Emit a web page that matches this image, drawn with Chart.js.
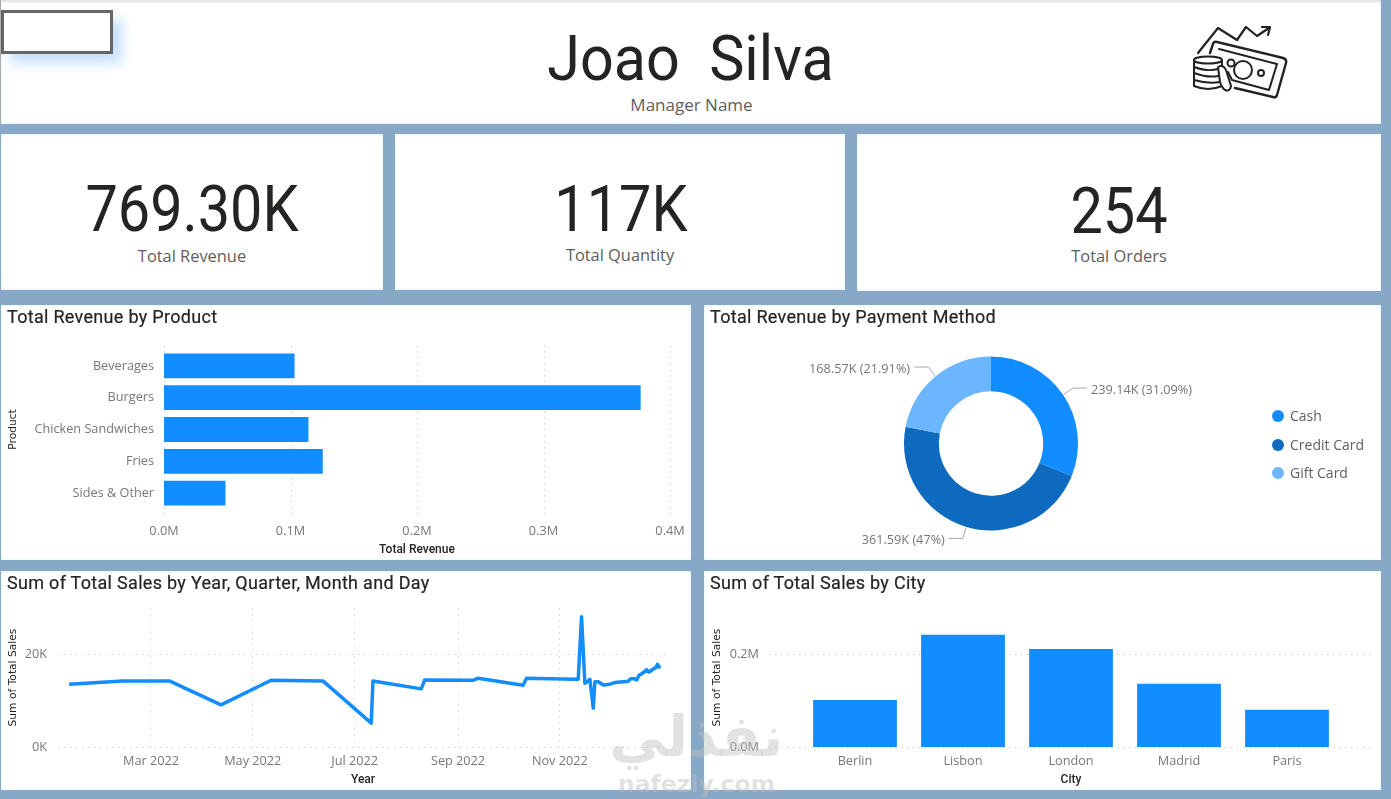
<!DOCTYPE html>
<html>
<head>
<meta charset="utf-8">
<title>Sales dashboard</title>
<script src="https://cdn.jsdelivr.net/npm/chart.js@4"></script>
<style>
  html, body { margin: 0; padding: 0; }
  body { width: 1391px; height: 799px; position: relative; overflow: hidden; background: #88a8c7; font-family: "Open Sans", sans-serif; }
  .panel { position: absolute; background: #fff; box-shadow: 0 0 3px #dcebf8 inset; }
  .panel canvas { position: absolute; left: 0; top: 0; }
  .abs { position: absolute; white-space: pre; }
  .title { position: absolute; left: 6px; top: 1px; font: 400 18px Roboto, sans-serif; letter-spacing: 0.3px; color: #252423; white-space: pre; -webkit-text-stroke: 0.2px #252423; }
  .kpi { position: absolute; text-align: center; font: 400 64px Roboto, sans-serif; color: #252423; transform: scaleX(0.9); }
  .kpilabel { position: absolute; text-align: center; font: 400 16.4px "Open Sans", sans-serif; color: #605e5c; }
  .legend { position: absolute; font: 400 14px "Open Sans", sans-serif; color: #605e5c; }
  .legend i { position: absolute; left: -18px; top: 4px; width: 12px; height: 12px; border-radius: 50%; }
</style>
</head>
<body>

<div class="abs" style="left:0;top:0;width:1381px;height:2px;background:#e6e6e6"></div>
<div class="abs" style="left:0;top:0;width:1px;height:124px;background:#aaa"></div>
<div class="panel" style="left:1px;top:2px;width:1380px;height:122px"></div>
<div class="abs" style="left:1px;top:10px;width:106px;height:38px;border:3px solid #666;background:#fff;box-shadow:9px 9px 12px #c4e0fc"></div>
<div class="abs" style="left:0;top:22px;width:1381px;text-align:center;font:400 63px Roboto,sans-serif;color:#252423;transform:scaleX(0.94)">Joao  Silva</div>
<div class="abs" style="left:0;top:93px;width:1383px;text-align:center;font:400 17px 'Open Sans',sans-serif;color:#605e5c">Manager Name</div>

<svg class="abs" style="left:1170px;top:10px" width="140" height="100" viewBox="0 0 140 100" fill="none" stroke="#222" stroke-width="2" stroke-linejoin="round" stroke-linecap="round">
  <polyline points="28,43 48,18 67,30 76,17 87,26 99,18" stroke-width="2.2"/>
  <polyline points="92,17 100,17 98,25" stroke-width="2.2"/>
  <path d="M40,43 L43,34 Q44,31 47,32 L113,48 Q117,49 116,53 L107,85 Q106,88 103,87 L65,78" stroke-width="2.4"/>
  <path d="M49,39 L107,54 L99,80 L62,70 L58,62"/>
  <circle cx="73" cy="60" r="9"/><circle cx="61" cy="53" r="3.5"/><circle cx="91" cy="63" r="3"/>
  <ellipse cx="38" cy="50" rx="14" ry="3.5"/>
  <path d="M24,50 V76 Q38,82 52,76 V50 M24,57 Q38,62 48,59 M24,63 Q38,68 48,66 M24,70 Q38,74 50,72"/>
  <path d="M48,57 Q53,54 56,60 L61,76 Q60,82 55,80 Q52,78 50,72 Z" fill="#fff"/>
</svg>

<div class="panel" style="left:1px;top:134px;width:382px;height:156px"></div>
<div class="kpi" style="left:1px;top:172px;width:382px">769.30K</div>
<div class="kpilabel" style="left:1px;top:244px;width:382px">Total Revenue</div>
<div class="panel" style="left:395px;top:134px;width:450px;height:156px"></div>
<div class="kpi" style="left:395px;top:172px;width:452px">117K</div>
<div class="kpilabel" style="left:395px;top:243px;width:450px">Total Quantity</div>
<div class="panel" style="left:857px;top:134px;width:524px;height:157px"></div>
<div class="kpi" style="left:857px;top:174px;width:524px">254</div>
<div class="kpilabel" style="left:857px;top:244px;width:524px">Total Orders</div>

<div class="panel" style="left:1px;top:305px;width:690px;height:255px"><canvas id="productChart"></canvas><div class="title">Total Revenue by Product</div></div>
<div class="panel" style="left:704px;top:305px;width:677px;height:255px"><canvas id="paymentChart"></canvas><div class="title">Total Revenue by Payment Method</div></div>
<div class="panel" style="left:1px;top:571px;width:690px;height:219px"><canvas id="salesChart"></canvas><div class="title">Sum of Total Sales by Year, Quarter, Month and Day</div></div>
<div class="panel" style="left:704px;top:571px;width:677px;height:219px"><canvas id="cityChart"></canvas><div class="title">Sum of Total Sales by City</div></div>

<div id="legend"></div>

<div class="abs" style="left:609px;top:703px;font:700 57px 'DejaVu Sans',sans-serif;color:rgba(190,190,190,.45)">نفذلي</div>
<div class="abs" style="left:618px;top:770px;font:700 23.5px 'DejaVu Sans',sans-serif;color:rgba(190,190,190,.45)">nafezly.com</div>

<script>
const products = ['Beverages', 'Burgers', 'Chicken Sandwiches', 'Fries', 'Sides & Other'];
const productRevenue = [0.1032, 0.3768, 0.1142, 0.1255, 0.0486];

const paymentMethods = ['Cash', 'Credit Card', 'Gift Card'];
const paymentRevenue = [239.14, 361.59, 168.57];
const paymentLabels = ['239.14K (31.09%)', '361.59K (47%)', '168.57K (21.91%)'];
const paymentColors = ['#118DFF', '#0D6ABF', '#6CB6FF'];

// day of 2022, sales
const salesDays = [10, 42, 70, 101, 131, 162, 191, 192, 221, 223, 252, 255, 282, 284, 313, 315, 317, 319, 320.6, 322, 324, 325, 327, 330, 333, 337, 345, 346.5, 348.5, 350, 351.5, 353.5, 356, 357.5, 360, 361.5, 362.5, 364];
const salesValues = [13550, 14265, 14265, 9100, 14400, 14265, 5160, 14265, 12540, 14480, 14400, 14840, 13330, 14840, 14620, 14620, 28090, 13760, 14110, 14620, 8390, 14100, 14100, 13400, 13470, 13900, 14190, 14750, 14750, 14470, 15480, 15900, 16690, 16190, 16840, 17120, 17850, 16990];
const monthTicks = [59, 120, 181, 243, 304];
const monthLabels = ['Mar 2022', 'May 2022', 'Jul 2022', 'Sep 2022', 'Nov 2022'];

const cities = ['Berlin', 'Lisbon', 'London', 'Madrid', 'Paris'];
const citySales = [0.1014, 0.2423, 0.2114, 0.1366, 0.0805];

const BLUE = '#118DFF';
const TICK_FONT = { family: '"Open Sans", sans-serif', size: 12.7 };
const TITLE_Y_FONT = { family: '"DejaVu Sans", sans-serif', size: 10.7 };
const TITLE_X_FONT = { family: 'Roboto, sans-serif', size: 12, weight: '500' };
const TICK_COLOR = '#777';
const GRID = '#d0d0d0';
const DASH = [1.5, 4.5];
const NO_GRID = { display: false, drawTicks: false };

function sizeCanvas(id, w, h) {
    const c = document.getElementById(id);
    c.style.width = w + 'px';
    c.style.height = h + 'px';
    c.width = w;
    c.height = h;
    return c;
}

function dottedGrid() {
    return { color: GRID, lineWidth: 1, drawTicks: false };
}

// pin the axis box so the plot area lands where it does in the report
function fixBox(size) {
    return s => {
        if (s.isHorizontal()) s.height = size; else s.width = size;
        s.paddingLeft = s.paddingRight = s.paddingTop = s.paddingBottom = 0;
    };
}

// Power BI grid lines run past the category bands, so these are drawn here
const extendGrid = {
    id: 'extendGrid',
    beforeDatasetsDraw(chart, args, opts) {
        const ctx = chart.ctx;
        ctx.save();
        ctx.strokeStyle = GRID;
        ctx.lineWidth = 1;
        ctx.setLineDash(DASH);
        if (opts.from !== undefined) {
            const s = chart.scales[opts.axis];
            s.ticks.forEach(t => {
                const p = Math.round(s.getPixelForValue(t.value)) + 0.5;
                ctx.beginPath();
                if (opts.axis === 'x') { ctx.moveTo(p, opts.from); ctx.lineTo(p, opts.to); }
                else { ctx.moveTo(opts.from, p); ctx.lineTo(opts.to, p); }
                ctx.stroke();
            });
        }
        ctx.restore();
    }
};

new Chart(sizeCanvas('productChart', 690, 255), {
    type: 'bar',
    plugins: [extendGrid],
    data: { labels: products, datasets: [{ data: productRevenue, backgroundColor: BLUE, barPercentage: 0.78, categoryPercentage: 1 }] },
    options: {
        indexAxis: 'y',
        responsive: false,
        animation: false,
        layout: { padding: { left: 0, right: 21, top: 45, bottom: 0 } },
        plugins: { legend: { display: false }, tooltip: { enabled: false }, extendGrid: { axis: 'x', from: 40, to: 212 } },
        scales: {
            x: {
                min: 0, max: 0.4,
                grid: NO_GRID,
                border: { display: false },
                afterFit: fixBox(51),
                afterBuildTicks(s) { s.ticks = [0, 0.1, 0.2, 0.3, 0.4].map(v => ({ value: v })); },
                ticks: { font: TICK_FONT, color: TICK_COLOR, padding: 15, maxRotation: 0, callback: v => v.toFixed(1) + 'M' },
                title: { display: true, text: 'Total Revenue', font: TITLE_X_FONT, color: '#252423', padding: { top: 0, bottom: 3 } }
            },
            y: {
                grid: NO_GRID,
                border: { display: false },
                afterFit: fixBox(163),
                ticks: { font: TICK_FONT, color: TICK_COLOR, padding: 10 },
                title: { display: true, text: 'Product', font: TITLE_Y_FONT, color: '#252423', padding: { top: 6, bottom: 0 } }
            }
        }
    }
});

// value labels with leader lines, placed from the arcs
const sliceLabels = {
    id: 'sliceLabels',
    afterDraw(chart) {
        const ctx = chart.ctx;
        chart.getDatasetMeta(0).data.forEach((arc, i) => {
            const mid = (arc.startAngle + arc.endAngle) / 2;
            const dx = Math.cos(mid), dy = Math.sin(mid);
            const x0 = arc.x + (arc.outerRadius + 1) * dx, y0 = arc.y + (arc.outerRadius + 1) * dy;
            const x1 = arc.x + (arc.outerRadius + 12) * dx, y1 = arc.y + (arc.outerRadius + 12) * dy;
            const side = dx >= 0 ? 1 : -1;
            const x2 = x1 + side * 14;
            ctx.save();
            ctx.strokeStyle = '#aaa';
            ctx.lineWidth = 1;
            ctx.beginPath();
            ctx.moveTo(x0, y0);
            ctx.lineTo(x1, y1);
            ctx.lineTo(x2, y1);
            ctx.stroke();
            ctx.font = '12.7px "Open Sans", sans-serif';
            ctx.fillStyle = TICK_COLOR;
            ctx.textBaseline = 'middle';
            ctx.textAlign = side > 0 ? 'left' : 'right';
            ctx.fillText(paymentLabels[i], x2 + side * 4, y1 + 2);
            ctx.restore();
        });
    }
};

new Chart(sizeCanvas('paymentChart', 677, 255), {
    type: 'doughnut',
    plugins: [sliceLabels],
    data: { labels: paymentMethods, datasets: [{ data: paymentRevenue, backgroundColor: paymentColors, borderWidth: 0 }] },
    options: {
        responsive: false,
        animation: false,
        cutout: '60%',
        layout: { padding: { left: 200, right: 303, top: 51.5, bottom: 29.5 } },
        plugins: { legend: { display: false }, tooltip: { enabled: false } }
    }
});

const legendBox = document.getElementById('legend');
paymentMethods.forEach((m, i) => {
    const row = document.createElement('div');
    row.className = 'legend';
    row.style.left = '1290px';
    row.style.top = (406 + i * 28.5) + 'px';
    row.innerHTML = '<i style="background:' + paymentColors[i] + '"></i>' + m;
    legendBox.appendChild(row);
});

new Chart(sizeCanvas('salesChart', 690, 219), {
    type: 'line',
    data: {
        datasets: [{
            data: salesDays.map((d, i) => ({ x: d, y: salesValues[i] })),
            borderColor: BLUE, borderWidth: 3.5, pointRadius: 0, tension: 0, borderJoinStyle: 'round'
        }]
    },
    options: {
        responsive: false,
        animation: false,
        layout: { padding: { left: 0, right: 23, top: 37, bottom: 0 } },
        plugins: { legend: { display: false }, tooltip: { enabled: false } },
        scales: {
            x: {
                type: 'linear', min: 3.3, max: 368.8,
                grid: dottedGrid(),
                border: { display: false, dash: DASH },
                afterFit: fixBox(43),
                afterBuildTicks(s) { s.ticks = monthTicks.map(v => ({ value: v })); },
                ticks: { font: TICK_FONT, color: TICK_COLOR, padding: 7, maxRotation: 0, autoSkip: false, callback: (v, i) => monthLabels[i] },
                title: { display: true, text: 'Year', font: TITLE_X_FONT, color: '#252423', padding: { top: 0, bottom: 3 } }
            },
            y: {
                min: 0, max: 30000,
                grid: dottedGrid(),
                border: { display: false, dash: DASH },
                afterFit: fixBox(57),
                afterBuildTicks(s) { s.ticks = [0, 20000].map(v => ({ value: v })); },
                ticks: { font: TICK_FONT, color: TICK_COLOR, padding: 11, callback: v => (v / 1000) + 'K' },
                title: { display: true, text: 'Sum of Total Sales', font: TITLE_Y_FONT, color: '#252423', padding: { top: 6, bottom: 0 } }
            }
        }
    }
});

new Chart(sizeCanvas('cityChart', 677, 219), {
    type: 'bar',
    plugins: [extendGrid],
    data: { labels: cities, datasets: [{ data: citySales, backgroundColor: BLUE, barPercentage: 0.776, categoryPercentage: 1 }] },
    options: {
        responsive: false,
        animation: false,
        layout: { padding: { left: 0, right: 40, top: 37, bottom: 0 } },
        plugins: { legend: { display: false }, tooltip: { enabled: false }, extendGrid: { axis: 'y', from: 65, to: 670 } },
        scales: {
            x: {
                grid: NO_GRID,
                border: { display: false },
                afterFit: fixBox(43),
                ticks: { font: TICK_FONT, color: TICK_COLOR, padding: 7, maxRotation: 0 },
                title: { display: true, text: 'City', font: TITLE_X_FONT, color: '#252423', padding: { top: 0, bottom: 3 } }
            },
            y: {
                min: 0, max: 0.3,
                grid: NO_GRID,
                border: { display: false },
                afterFit: fixBox(97),
                afterBuildTicks(s) { s.ticks = [0, 0.2].map(v => ({ value: v })); },
                ticks: { font: TICK_FONT, color: TICK_COLOR, padding: 42, callback: v => v.toFixed(1) + 'M' },
                title: { display: true, text: 'Sum of Total Sales', font: TITLE_Y_FONT, color: '#252423', padding: { top: 7, bottom: 0 } }
            }
        }
    }
});
</script>
</body>
</html>
